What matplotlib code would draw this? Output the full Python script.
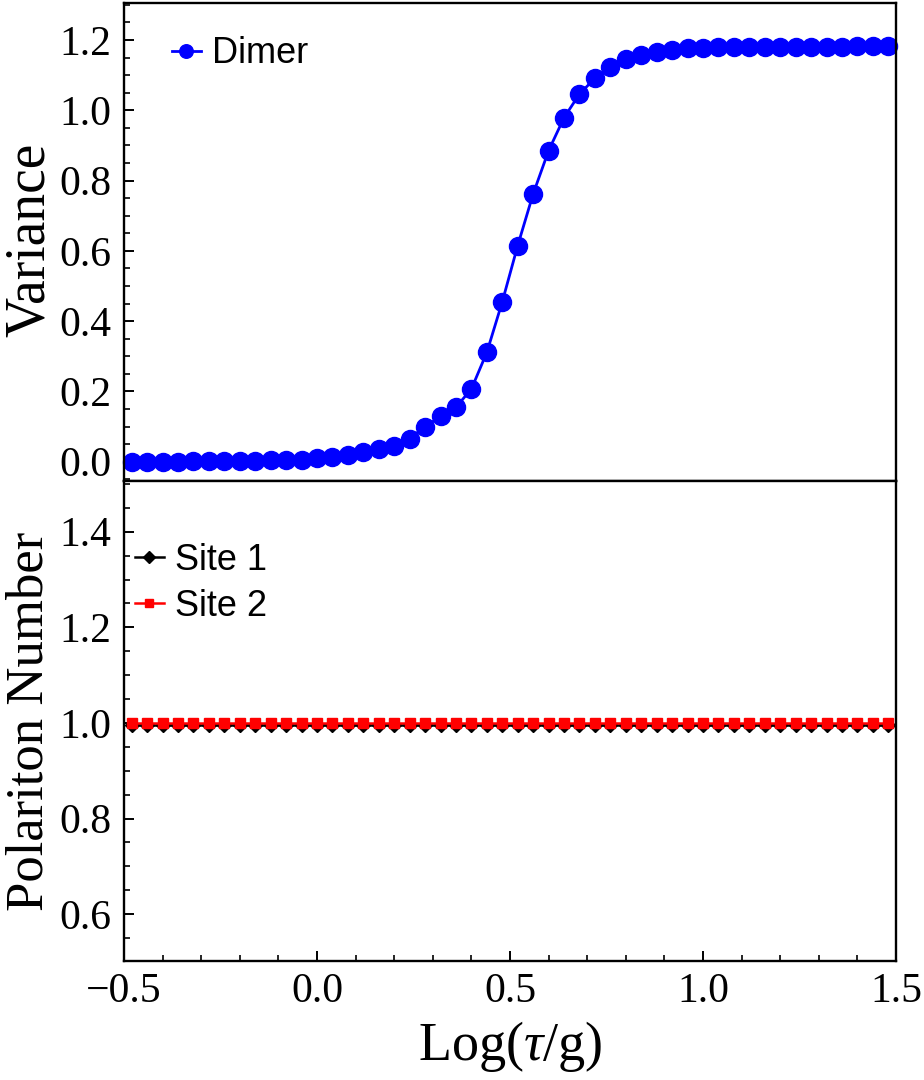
import numpy as np
import matplotlib
matplotlib.use("Agg")
import matplotlib.pyplot as plt
from matplotlib.ticker import MultipleLocator, FuncFormatter

plt.rcParams['font.family'] = ['Liberation Serif', 'DejaVu Serif']
plt.rcParams['mathtext.fontset'] = 'custom'
plt.rcParams['mathtext.rm'] = 'Liberation Serif'
plt.rcParams['mathtext.it'] = 'Liberation Serif:italic'

# log(tau/g) grid
log_tau = np.round(np.arange(-0.48, 1.50, 0.04), 2)

variance = [0.0, 0.0, 0.0, 0.0, 0.001, 0.001, 0.002, 0.002, 0.003, 0.004,
            0.004, 0.006, 0.010, 0.014, 0.018, 0.028, 0.035, 0.045, 0.066, 0.100,
            0.129, 0.155, 0.207, 0.311, 0.455, 0.615, 0.762, 0.885, 0.979, 1.046,
            1.091, 1.124, 1.145, 1.157, 1.165, 1.172, 1.176, 1.177, 1.179, 1.181,
            1.181, 1.181, 1.181, 1.181, 1.181, 1.181, 1.181, 1.182, 1.182, 1.183]

site1 = [0.995] * len(log_tau)
site2 = [1.0] * len(log_tau)


def one_decimal(v, pos):
    return f'{v:.1f}'.replace('-', '\u2212')


fig = plt.figure(figsize=(9.24, 10.8), dpi=100)
ax1 = fig.add_axes([0.1342, 0.5546, 0.8355, 0.4426])
ax2 = fig.add_axes([0.1342, 0.1102, 0.8355, 0.4444])

ax1.plot(log_tau, variance, '-o', color='#0000ff', lw=2.0, ms=13,
         clip_on=False, label='Dimer')
ax2.plot(log_tau, site1, '-D', color='black', lw=1.8, ms=7.5,
         clip_on=False, label='Site 1', zorder=3)
ax2.plot(log_tau, site2, '-s', color='#ff0000', lw=1.8, ms=7.5,
         clip_on=False, label='Site 2', zorder=4)

for ax in (ax1, ax2):
    ax.set_xlim(-0.5, 1.5)
    for s in ax.spines.values():
        s.set_linewidth(1.7)
    ax.yaxis.set_major_locator(MultipleLocator(0.2))
    ax.yaxis.set_minor_locator(MultipleLocator(0.05))
    ax.yaxis.set_major_formatter(FuncFormatter(one_decimal))
    ax.tick_params(axis='y', which='both', direction='in', left=True, right=False,
                   labelsize=30, pad=9)
    ax.tick_params(axis='y', which='major', length=7, width=1.4)
    ax.tick_params(axis='y', which='minor', length=4.5, width=1.2)

ax1.set_ylim(-0.055, 1.305)
ax2.set_ylim(0.502, 1.506)
ax2.set_yticks([0.6, 0.8, 1.0, 1.2, 1.4])

ax1.tick_params(axis='x', which='both', bottom=False, top=False, labelbottom=False)

ax2.xaxis.set_major_locator(MultipleLocator(0.5))
ax2.xaxis.set_minor_locator(MultipleLocator(0.1))
ax2.xaxis.set_major_formatter(FuncFormatter(one_decimal))
ax2.tick_params(axis='x', which='both', direction='in', bottom=True, top=False,
                labelsize=30, pad=8)
ax2.tick_params(axis='x', which='major', length=7, width=1.4)
ax2.tick_params(axis='x', which='minor', length=4.5, width=1.2)

fig.text(30 / 924, 1 - 240 / 1080, 'Variance', rotation=90, ha='center',
         va='center', fontsize=40)
fig.text(30 / 924, 1 - 721 / 1080, 'Polariton Number', rotation=90, ha='center',
         va='center', fontsize=38)
fig.text(510 / 924, 1 - 1046 / 1080, r'Log($\tau$/g)', ha='center',
         va='center', fontsize=39)

leg_kw = dict(frameon=False, borderpad=0, borderaxespad=0, handlelength=0.8,
              handletextpad=0.3, markerscale=0.75,
              prop={'family': 'Liberation Sans', 'size': 26})
ax1.legend(loc='center left', bbox_to_anchor=(0.062, 0.894), **leg_kw)
ax2.legend(loc='center left', bbox_to_anchor=(0.0142, 0.7865),
           labelspacing=0.3, **leg_kw)

fig.savefig('out.png', dpi=100)
